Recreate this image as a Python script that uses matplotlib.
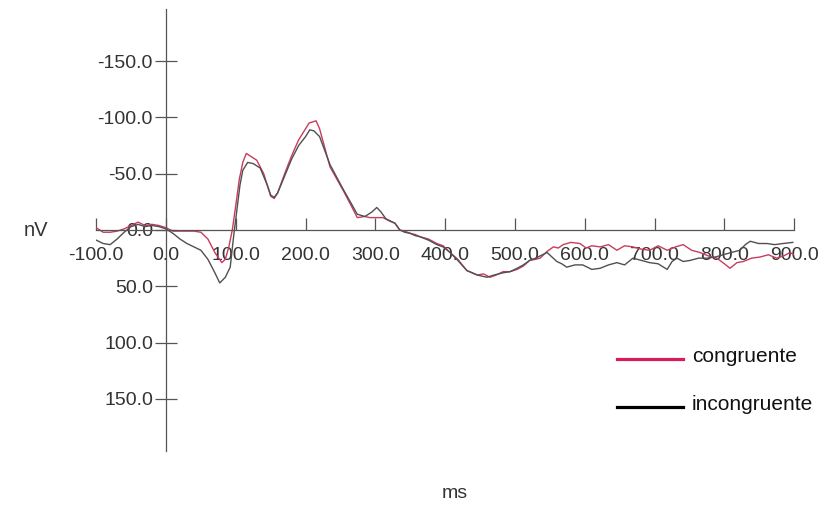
import matplotlib
matplotlib.use('Agg')
import matplotlib.pyplot as plt
from matplotlib.lines import Line2D

plt.rcParams['font.family'] = ['Liberation Sans', 'DejaVu Sans']
plt.rcParams['axes.unicode_minus'] = False

# congruente trace (ms, nV) - negative up
cong_ms = [-100, -90, -80, -70, -60, -50, -40, -30, -20, -10, 0, 10, 20, 30, 40, 50,
           60, 70, 80, 85, 90, 95, 100, 105, 110, 115, 120, 130, 140, 145, 150, 155,
           160, 170, 180, 190, 200, 205, 210, 215, 220, 235, 254, 265, 274, 285, 292,
           300, 311, 320, 328, 335, 342, 350, 357, 364, 376, 388, 397, 407, 418, 431,
           446, 455, 464, 473, 483, 493, 503, 512, 521, 530, 536, 546, 555, 562, 569,
           580, 593, 602, 610, 622, 634, 646, 657, 669, 681, 693, 705, 718, 730, 741,
           753, 765, 777, 789, 800, 808, 818, 827, 839, 851, 863, 875, 885, 894, 900]
cong_nv = [-2, 2, 2, 1, -1, -4, -7, -4, -5, -4, -2, 1, 1, 1, 1, 2,
           8, 20, 29, 26, 15, 0, -22, -45, -60, -68, -66, -62, -50, -40, -30, -28,
           -33, -50, -66, -80, -90, -95, -96, -97, -90, -56, -35, -22, -11, -12, -11,
           -11, -11, -8, -6, 0, 1, 3, 4, 6, 8, 12, 14, 20, 26, 36,
           40, 39, 42, 40, 37, 37, 35, 32, 27, 26, 25, 19, 15, 16, 13,
           11, 12, 16, 14, 15, 13, 18, 14, 15, 17, 18, 14, 18, 15, 13,
           18, 20, 23, 25, 30, 34, 29, 28, 25, 24, 22, 25, 23, 20, 22]

# incongruente trace
incong_ms = [-100, -90, -80, -70, -60, -50, -40, -30, -20, -10, 0, 10, 20, 30, 40, 50,
             60, 70, 77, 85, 92, 97, 102, 106, 110, 117, 125, 135, 145, 150, 155, 160,
             170, 180, 190, 200, 206, 212, 220, 235, 254, 265, 274, 285, 295, 302, 308,
             315, 328, 335, 342, 350, 357, 364, 376, 388, 397, 407, 418, 431, 446, 460,
             470, 483, 493, 503, 512, 521, 530, 536, 546, 553, 560, 567, 574, 586, 597,
             610, 622, 634, 646, 657, 669, 681, 693, 705, 718, 725, 732, 741, 751, 763,
             775, 787, 798, 810, 822, 830, 837, 849, 861, 872, 884, 898]
incong_nv = [9, 12, 13, 8, 2, -3, -5, -3, -4, -3, -1, 3, 8, 12, 15, 18,
             26, 38, 47, 42, 33, 5, -20, -40, -53, -60, -59, -55, -40, -31, -29, -33,
             -48, -63, -75, -83, -89, -88, -83, -58, -36, -24, -14, -12, -16, -20, -16,
             -10, -6, 0, 2, 3, 5, 6, 9, 13, 15, 20, 27, 36, 40, 42,
             40, 38, 37, 34, 31, 27, 25, 23, 20, 24, 28, 30, 33, 31, 31,
             35, 34, 31, 29, 31, 25, 27, 29, 30, 35, 28, 25, 28, 27, 25,
             25, 24, 22, 20, 18, 13, 10, 12, 12, 13, 12, 11]

x_ticks = [-100, 0, 100, 200, 300, 400, 500, 600, 700, 800, 900]
y_ticks = [-150, -100, -50, 0, 50, 100, 150]

fig = plt.figure(figsize=(8.21, 5.07), dpi=100)
ax = fig.add_axes([96.2 / 821, 56 / 507, 698 / 821, 442 / 507])
ax.set_xlim(-100, 900)
ax.set_ylim(196.3, -196.3)

ax.plot(cong_ms, cong_nv, color='#c83c5e', lw=1.0, solid_joinstyle='round')
ax.plot(incong_ms, incong_nv, color='#505050', lw=1.0, solid_joinstyle='round')

for s in ['top', 'right']:
    ax.spines[s].set_visible(False)
ax.spines['left'].set_position(('data', 0))
ax.spines['bottom'].set_position(('data', 0))
for s in ['left', 'bottom']:
    ax.spines[s].set_color('#555555')
    ax.spines[s].set_linewidth(0.9)

ax.set_xticks(x_ticks)
ax.set_xticklabels(['%.1f' % v for v in x_ticks])
ax.set_yticks(y_ticks)
ax.set_yticklabels(['%.1f' % v for v in y_ticks])
ax.tick_params(axis='x', direction='in', length=8.6, width=0.9, color='#555555',
               pad=12, labelsize=14, labelcolor='#333333')
ax.tick_params(axis='y', direction='inout', length=15.8, width=0.9, color='#555555',
               pad=1.5, labelsize=14, labelcolor='#333333')
ax.patch.set_visible(False)

fig.text(36 / 821, 1 - 230 / 507, 'nV', ha='center', va='center', fontsize=14.5, color='#333333')
fig.text(455 / 821, 1 - 494 / 507, 'ms', ha='center', va='center', fontsize=14, color='#333333')

# legend
for yy, col, lab in [(359, '#d81b5a', 'congruente'), (407, '#000000', 'incongruente')]:
    fig.add_artist(Line2D([617 / 821, 683 / 821], [1 - yy / 507, 1 - yy / 507],
                          transform=fig.transFigure, color=col, lw=2.3))
    fig.text(692 / 821, 1 - (yy - 2) / 507, lab, ha='left', va='center',
             fontsize=15, color='#111111')

fig.savefig('out.png', dpi=100)
